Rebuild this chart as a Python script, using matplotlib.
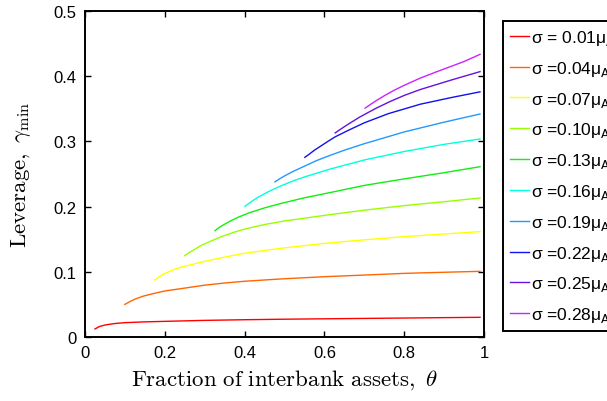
import matplotlib
matplotlib.use("Agg")
import matplotlib.pyplot as plt

plt.rcParams['font.family'] = ['Liberation Sans', 'DejaVu Sans']
plt.rcParams['mathtext.fontset'] = 'cm'

# sigma levels (multiples of mu_A)
sigmas = ["0.01", "0.04", "0.07", "0.10", "0.13", "0.16", "0.19", "0.22", "0.25", "0.28"]

# theta / gamma_min points, one curve per sigma
theta_01 = [0.025, 0.035, 0.05, 0.075, 0.1, 0.15, 0.2, 0.3, 0.4, 0.5, 0.6, 0.7, 0.8, 0.9, 0.99]
gamma_01 = [0.0123, 0.0158, 0.0184, 0.0207, 0.022, 0.0232, 0.024, 0.0255, 0.0265, 0.0273,
            0.0279, 0.0285, 0.0291, 0.0297, 0.0302]
theta_04 = [0.1, 0.11, 0.125, 0.145, 0.167, 0.2, 0.25, 0.3, 0.35, 0.4, 0.49, 0.6, 0.7, 0.8, 0.9, 0.99]
gamma_04 = [0.050, 0.0535, 0.058, 0.0625, 0.066, 0.0706, 0.075, 0.0795, 0.0828, 0.0855,
            0.089, 0.0925, 0.095, 0.0976, 0.0993, 0.1007]
theta_07 = [0.175, 0.185, 0.2, 0.225, 0.25, 0.3, 0.35, 0.4, 0.49, 0.6, 0.7, 0.8, 0.9, 0.99]
gamma_07 = [0.0874, 0.092, 0.0975, 0.104, 0.1085, 0.116, 0.1225, 0.1285, 0.136, 0.1436,
            0.149, 0.1539, 0.158, 0.1616]
theta_10 = [0.25, 0.26, 0.275, 0.29, 0.315, 0.34, 0.37, 0.4, 0.45, 0.5, 0.6, 0.7, 0.8, 0.9, 0.99]
gamma_10 = [0.1247, 0.129, 0.1345, 0.140, 0.147, 0.1535, 0.160, 0.1655, 0.1725, 0.178,
            0.1865, 0.1945, 0.2015, 0.2075, 0.2132]
theta_13 = [0.326, 0.335, 0.35, 0.363, 0.385, 0.414, 0.45, 0.489, 0.55, 0.614, 0.7, 0.8, 0.9, 0.99]
gamma_13 = [0.163, 0.1675, 0.173, 0.1775, 0.184, 0.191, 0.198, 0.2045, 0.2135, 0.2215,
            0.2325, 0.2425, 0.252, 0.2612]
theta_16 = [0.401, 0.41, 0.425, 0.44, 0.46, 0.49, 0.52, 0.55, 0.614, 0.7, 0.8, 0.9, 0.99]
gamma_16 = [0.2005, 0.2045, 0.211, 0.2165, 0.223, 0.2315, 0.239, 0.2455, 0.2575, 0.2715,
            0.2845, 0.2955, 0.3037]
theta_19 = [0.476, 0.485, 0.5, 0.52, 0.55, 0.58, 0.614, 0.65, 0.7, 0.8, 0.9, 0.99]
gamma_19 = [0.238, 0.2415, 0.247, 0.2535, 0.262, 0.2705, 0.2785, 0.2865, 0.2965, 0.3145,
            0.3295, 0.342]
theta_22 = [0.551, 0.56, 0.575, 0.59, 0.61, 0.627, 0.66, 0.7, 0.76, 0.84, 0.92, 0.99]
gamma_22 = [0.2756, 0.2795, 0.2865, 0.2925, 0.3005, 0.307, 0.317, 0.3285, 0.3425, 0.357,
            0.3675, 0.376]
theta_25 = [0.627, 0.64, 0.66, 0.689, 0.73, 0.764, 0.8, 0.84, 0.92, 0.99]
gamma_25 = [0.313, 0.3185, 0.3265, 0.3375, 0.351, 0.361, 0.3705, 0.3795, 0.3945, 0.407]
theta_28 = [0.702, 0.715, 0.73, 0.75, 0.775, 0.8, 0.84, 0.88, 0.915, 0.95, 0.99]
gamma_28 = [0.351, 0.3565, 0.3625, 0.370, 0.3785, 0.386, 0.397, 0.4065, 0.4145, 0.4225, 0.4335]

thetas = [theta_01, theta_04, theta_07, theta_10, theta_13,
          theta_16, theta_19, theta_22, theta_25, theta_28]
gammas = [gamma_01, gamma_04, gamma_07, gamma_10, gamma_13,
          gamma_16, gamma_19, gamma_22, gamma_25, gamma_28]

colors = ['#ff0000', '#ff6600', '#ffff00', '#99ff00', '#11ee11',
          '#00ffdd', '#2299ff', '#1111ee', '#6611dd', '#cc22ff']

fig = plt.figure(figsize=(6.07, 4.02), dpi=100)
ax = fig.add_axes([85/607, 64/402, 399/607, 326/402])

for i in range(len(sigmas)):
    if i == 0:
        lab = r"σ = " + sigmas[i] + r"μ$_{\mathrm{A}}$"
    else:
        lab = r"σ =" + sigmas[i] + r"μ$_{\mathrm{A}}$"
    ax.plot(thetas[i], gammas[i], color=colors[i], lw=1.0, label=lab)

ax.set_xlim(0, 1)
ax.set_ylim(0, 0.5)
ax.set_xticks([0, 0.2, 0.4, 0.6, 0.8, 1])
ax.set_xticklabels(['0', '0.2', '0.4', '0.6', '0.8', '1'])
ax.set_yticks([0, 0.1, 0.2, 0.3, 0.4, 0.5])
ax.set_yticklabels(['0', '0.1', '0.2', '0.3', '0.4', '0.5'])
ax.tick_params(direction='in', top=True, right=True, labelsize=12,
               length=4, width=1, pad=6)
for s in ax.spines.values():
    s.set_linewidth(1.4)

ax.set_xlabel(r"$\mathrm{Fraction\ of\ interbank\ assets,}\ \theta$", fontsize=16.5, labelpad=5)
ax.set_ylabel(r"$\mathrm{Leverage,}\ \gamma_{\mathrm{min}}$", fontsize=16.5, labelpad=15)

leg = fig.legend(loc='upper left', bbox_to_anchor=(503/607, 1 - 22/402),
                 fontsize=12.5, frameon=True, fancybox=False, framealpha=1,
                 edgecolor='black', handlelength=1.1, handletextpad=0.1,
                 labelspacing=0.68, borderpad=0.4, borderaxespad=0)
leg.get_frame().set_linewidth(1.4)
for txt in leg.get_texts():
    txt.set_math_fontfamily('dejavusans')

fig.savefig('out.png', dpi=100)
